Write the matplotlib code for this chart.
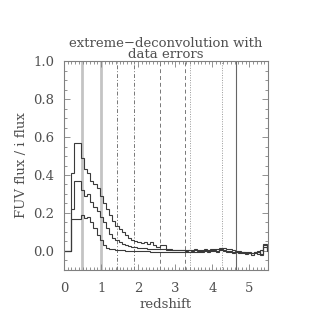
import matplotlib
matplotlib.use('Agg')
import matplotlib.pyplot as plt
import numpy as np
from matplotlib.ticker import MultipleLocator

plt.rcParams['font.family'] = 'DejaVu Serif'

# redshift bin edges (uniform 0.085 wide bins, first bin padded to z=0)
z_edges = np.round(np.concatenate([[0.0], np.arange(0.11, 5.5, 0.085), [5.5]]), 3)

# FUV/i flux ratio percentiles per redshift bin
flux_upper = [0, 0, 0.41, 0.57, 0.57, 0.49, 0.43, 0.41, 0.37, 0.35, 0.33, 0.29, 0.25, 0.22, 0.19, 0.16, 0.13,
              0.115, 0.10, 0.085, 0.07, 0.06, 0.05, 0.045, 0.04, 0.045, 0.035, 0.045, 0.03, 0.02, 0.03, 0.03, 0.012,
              0.008, 0.006, 0.005, 0.007, 0.004, 0.006, 0.003, 0.005, 0.008, 0.004, 0.007, 0.01, 0.006, 0.01, 0.008,
              0.012, 0.015, 0.018, 0.012, 0.008, 0.004, 0.0, -0.005, -0.003, -0.008, -0.01, -0.012, -0.005, -0.015,
              0.005, 0.03, 0.0]
flux_middle = [0, 0, 0.22, 0.37, 0.37, 0.32, 0.29, 0.30, 0.26, 0.23, 0.21, 0.18, 0.15, 0.12, 0.09, 0.07, 0.055,
               0.045, 0.038, 0.032, 0.027, 0.022, 0.02, 0.017, 0.015, 0.013, 0.012, 0.011, 0.01, 0.009, 0.008, 0.008,
               0.007, 0.006, 0.004, 0.006, 0.003, 0.005, 0.002, 0.004, 0.001, 0.003, 0.0, 0.002, 0.004, 0.0, 0.003,
               0.006, 0.002, 0.008, 0.005, 0.002, 0.0, -0.003, -0.006, -0.002, -0.005, -0.01, -0.004, -0.012, -0.008,
               0.002, -0.02, 0.035, 0.01]
flux_lower = [0, 0, 0.17, 0.17, 0.17, 0.19, 0.175, 0.18, 0.15, 0.12, 0.085, 0.055, 0.03, 0.018, 0.012, 0.008, 0.006,
              0.004, 0.003, 0.002, 0.001, 0.0, 0.0, -0.001, -0.001, -0.002, -0.002, -0.003, -0.003, -0.003, -0.004,
              -0.004, -0.004, -0.005, -0.003, -0.006, -0.004, -0.007, -0.005, -0.008, -0.004, -0.006, -0.003, -0.005,
              -0.002, -0.006, -0.001, 0.002, -0.003, 0.004, -0.002, -0.005, -0.008, -0.01, -0.006, -0.012, -0.009,
              -0.015, -0.01, -0.02, -0.012, -0.005, -0.015, 0.02, 0.005]

# marker redshifts (vertical lines) grouped by line style
z_grey = [0.48, 1.0]
z_dashdot = [1.44, 1.90]
z_dashed = [2.59, 3.25]
z_dotted = [3.41, 4.25]
z_solid = [4.63]

txt = '#505050'
frame = '#808080'

fig = plt.figure(figsize=(3.32, 3.32), dpi=100)
ax = fig.add_axes([0.193, 0.187, 0.614, 0.629])

for z in z_grey:
    ax.axvline(z, color='#c4c4c4', lw=2.0, zorder=1)
for z in z_dashdot:
    ax.axvline(z, color='#777777', lw=0.7, ls=(0, (4, 2, 1, 2)), zorder=1)
for z in z_dashed:
    ax.axvline(z, color='#777777', lw=0.7, ls=(0, (4, 3)), zorder=1)
for z in z_dotted:
    ax.axvline(z, color='#999999', lw=0.7, ls=(0, (1, 1.5)), zorder=1)
for z in z_solid:
    ax.axvline(z, color='#666666', lw=0.8, zorder=1)

for vals in (flux_upper, flux_middle, flux_lower):
    ax.stairs(vals, z_edges, baseline=None, color='#3a3a3a', lw=0.8, zorder=2)

ax.set_xlim(0, 5.5)
ax.set_ylim(-0.1, 1.0)
ax.xaxis.set_major_locator(MultipleLocator(1))
ax.xaxis.set_minor_locator(MultipleLocator(0.1))
ax.yaxis.set_major_locator(MultipleLocator(0.2))
ax.yaxis.set_minor_locator(MultipleLocator(0.05))
ax.yaxis.set_major_formatter(plt.FormatStrFormatter('%.1f'))
ax.tick_params(which='both', direction='in', top=True, right=True, color=frame, labelcolor=txt,
               labelsize=9.5, width=0.6)
ax.tick_params(which='major', length=4)
ax.tick_params(which='minor', length=2)
ax.tick_params(axis='x', which='major', pad=9)
ax.tick_params(axis='y', which='major', pad=7)
for s in ax.spines.values():
    s.set_color(frame)
    s.set_linewidth(0.8)

ax.set_xlabel('redshift', color=txt, fontsize=9.5, labelpad=2)
ax.set_ylabel('FUV flux / i flux', color=txt, fontsize=9.5, labelpad=4)
ax.set_title('extreme\u2212deconvolution with\ndata errors', color=txt, fontsize=9.5,
             linespacing=0.8, pad=2)

fig.savefig('out.png', dpi=100)
